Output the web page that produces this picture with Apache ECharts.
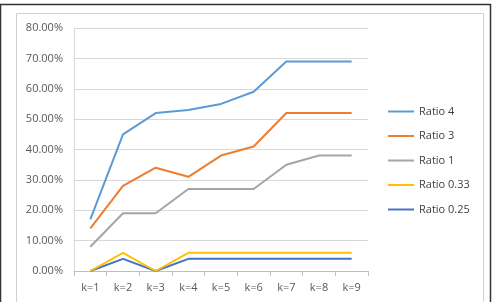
<!DOCTYPE html>
<html>
<head>
<meta charset="utf-8">
<script src="https://cdn.jsdelivr.net/npm/echarts@6/dist/echarts.min.js"></script>
<style>
  html, body { margin: 0; padding: 0; background: #fff; }
  #chart { width: 494px; height: 302px; }
</style>
</head>
<body>
<div id="chart"></div>
<script>
// categories and values (percent)
const categories = ['k=1', 'k=2', 'k=3', 'k=4', 'k=5', 'k=6', 'k=7', 'k=8', 'k=9'];
const ratio4 = [17, 45, 52, 53, 55, 59, 69, 69, 69];
const ratio3 = [14, 28, 34, 31, 38, 41, 52, 52, 52];
const ratio1 = [8, 19, 19, 27, 27, 27, 35, 38, 38];
const ratio033 = [0, 6, 0, 6, 6, 6, 6, 6, 6];
const ratio025 = [0, 4, 0, 4, 4, 4, 4, 4, 4];
const seriesNames = ['Ratio 4', 'Ratio 3', 'Ratio 1', 'Ratio 0.33', 'Ratio 0.25'];
const colors = ['#5B9BD5', '#ED7D31', '#A5A5A5', '#FFC000', '#4472C4'];

const chart = echarts.init(document.getElementById('chart'));

const lineSeries = [ratio4, ratio3, ratio1, ratio033, ratio025].map((data, i) => ({
  name: seriesNames[i],
  type: 'line',
  data: data,
  symbol: 'none',
  lineStyle: { width: 2, color: colors[i] },
  itemStyle: { color: colors[i] },
  z: 10 - i
}));

const option = {
  animation: false,
  backgroundColor: '#fff',
  textStyle: { fontFamily: 'Open Sans' },
  graphic: [
    // outer dark frame and inner light frame
    { type: 'rect', shape: { x: 0.5, y: 4.5, width: 490, height: 310 }, style: { fill: 'none', stroke: '#333', lineWidth: 1.5 }, silent: true },
    { type: 'rect', shape: { x: 16.5, y: 13.5, width: 467, height: 300 }, style: { fill: 'none', stroke: '#d0d0d0', lineWidth: 1 }, silent: true }
  ],
  grid: { left: 74, right: 126, top: 28, bottom: 31 },
  legend: {
    data: seriesNames,
    orient: 'vertical',
    left: 388,
    top: 104.5,
    padding: 0,
    icon: 'rect',
    itemWidth: 26,
    itemHeight: 2,
    itemGap: 10.5,
    textStyle: { color: '#404040', fontSize: 11, lineHeight: 14, fontFamily: 'Open Sans' }
  },
  xAxis: {
    type: 'category',
    data: categories,
    boundaryGap: true,
    axisLine: { lineStyle: { color: '#bfbfbf', width: 1 } },
    axisTick: { show: true, alignWithLabel: false, length: 5, lineStyle: { color: '#bfbfbf' } },
    axisLabel: { color: '#595959', fontSize: 11, margin: 11 }
  },
  yAxis: {
    type: 'value',
    min: 0,
    max: 80,
    interval: 10,
    axisLine: { show: true, lineStyle: { color: '#d9d9d9' } },
    axisTick: { show: false },
    axisLabel: {
      color: '#595959',
      fontSize: 11,
      margin: 11,
      formatter: v => v.toFixed(2) + '%'
    },
    splitLine: { lineStyle: { color: '#d9d9d9', width: 1 } }
  },
  series: lineSeries
};

chart.setOption(option);
</script>
</body>
</html>
